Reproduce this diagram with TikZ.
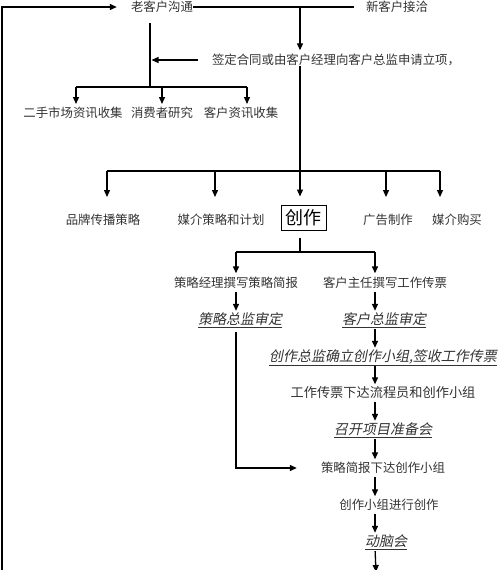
\documentclass[tikz,border=0pt]{standalone}
\usepackage{fontspec}
\setmainfont{Noto Sans CJK SC}
\newfontfamily\cjkit[FakeSlant=0.2]{Noto Sans CJK SC}
\usetikzlibrary{arrows.meta,calc}
\begin{document}
\begin{tikzpicture}[x=1pt,y=-1pt,
  lbl/.style={inner sep=0pt, text height=9.5pt, text depth=1.5pt, font=\fontsize{12.4}{14}\selectfont, text=black!80},
  emp/.style={inner sep=0pt, text height=10.5pt, text depth=1.5pt, font=\cjkit\fontsize{14}{16}\selectfont, text=black!80},
  ln/.style={line width=1.3pt, draw=black},
  arr/.style={ln, -{Triangle[length=7pt,width=6pt]}},
  flow/.style={arr, shorten <=3pt, shorten >=3pt}]
\useasboundingbox (0,0) rectangle (500,570);

% top row
\node[lbl] (old) at (162,7) {老客户沟通};
\node[lbl] (new) at (397,7) {新客户接洽};
\node[lbl] (sign) at (336,60) {签定合同或由客户经理向客户总监申请立项，};

% research row
\node[lbl] (c1) at (73,113) {二手市场资讯收集};
\node[lbl] (c2) at (162,113) {消费者研究};
\node[lbl] (c3) at (241,113) {客户资讯收集};

% main row
\node[lbl] (brand) at (103,220) {品牌传播策略};
\node[lbl] (media) at (221,220) {媒介策略和计划};
\node[draw, line width=1pt, inner sep=0pt, minimum width=45pt, minimum height=25pt,
      font=\fontsize{18}{20}\selectfont] (create) at (303.5,217.5) {创作};
\node[lbl] (ad) at (388,220) {广告制作};
\node[lbl] (buy) at (457,220) {媒介购买};

% creative workflow
\node[lbl] (s1) at (236,283) {策略经理撰写策略简报};
\node[lbl] (k1) at (385,283) {客户主任撰写工作传票};
\node[emp] (s2) at (240,320) {\underline{策略总监审定}};
\node[emp] (k2) at (384,320) {\underline{客户总监审定}};
\node[emp] (k3) at (383,357) {\underline{创作总监确立创作小组,签收工作传票}};
\node[lbl, font=\fontsize{13.2}{15}\selectfont] (k4) at (383,393) {工作传票下达流程员和创作小组};
\node[emp] (k5) at (383,430) {\underline{召开项目准备会}};
\node[lbl] (k6) at (383,468) {策略简报下达创作小组};
\node[lbl] (k7) at (389,505) {创作小组进行创作};
\node[emp] (k8) at (386,542) {\underline{动脑会}};

% coordinates
\coordinate (lb) at (2,575);
\coordinate (j1) at (300,7);
\coordinate (j2) at (300,171);
\coordinate (v1) at (150,23);
\coordinate (v2) at (150,87);
\coordinate (b1) at (76,104);
\coordinate (b2) at (162,104);
\coordinate (b3) at (247,104);
\coordinate (a1) at (107,197);
\coordinate (a2) at (215,197);
\coordinate (a4) at (386,197);
\coordinate (a5) at (440,197);
\coordinate (j3) at (300,252);
\coordinate (L) at (236,252);
\coordinate (R) at (375,252);
\coordinate (bot) at (376,572);

% top connectors
\draw[arr, shorten >=14pt] (lb) |- (old.west);
\draw[ln, shorten >=12pt] (old.east) -- (new.west);
\draw[arr, shorten >=4pt] (j1) -- (j1 |- sign.north);
\draw[ln] (sign.south -| j1) -- (j2);

% research branch
\draw[ln] (v1) -- (v2);
\draw[arr, shorten <=14pt, shorten >=1.5pt] (sign.west) -- (sign.west -| v1);
\draw[ln] (b1 |- v2) -- (b3 |- v2);
\draw[arr] (b1 |- v2) -- (b1);
\draw[arr] (b2 |- v2) -- (b2);
\draw[arr] (b3 |- v2) -- (b3);

% main branch
\draw[ln] (a1 |- j2) -- (a5 |- j2);
\draw[arr] (a1 |- j2) -- (a1);
\draw[arr] (a2 |- j2) -- (a2);
\draw[arr, shorten >=8pt] (j2) -- (create.north -| j2);
\draw[arr] (a4 |- j2) -- (a4);
\draw[arr] (a5 |- j2) -- (a5);

% creative split
\draw[ln, shorten <=7pt] (create.south -| j3) -- (j3);
\draw[ln] (L) -- (R);
\draw[arr, shorten >=4pt] (L) -- (L |- s1.north);
\draw[arr, shorten >=4pt] (R) -- (R |- k1.north);

% left chain
\draw[flow] (L |- s1.south) -- (L |- s2.north);
\draw[arr, shorten <=6pt, shorten >=24pt] (L |- s2.south) |- (k6.west);

% right chain
\draw[flow] (R |- k1.south) -- (R |- k2.north);
\draw[flow] (R |- k2.south) -- (R |- k3.north);
\draw[flow] (R |- k3.south) -- (R |- k4.north);
\draw[flow] (R |- k4.south) -- (R |- k5.north);
\draw[flow] (R |- k5.south) -- (R |- k6.north);
\draw[flow] (R |- k6.south) -- (R |- k7.north);
\draw[flow] (R |- k7.south) -- (R |- k8.north);
\draw[arr, shorten <=3pt] (R |- k8.south) -- (bot);
\end{tikzpicture}
\end{document}
